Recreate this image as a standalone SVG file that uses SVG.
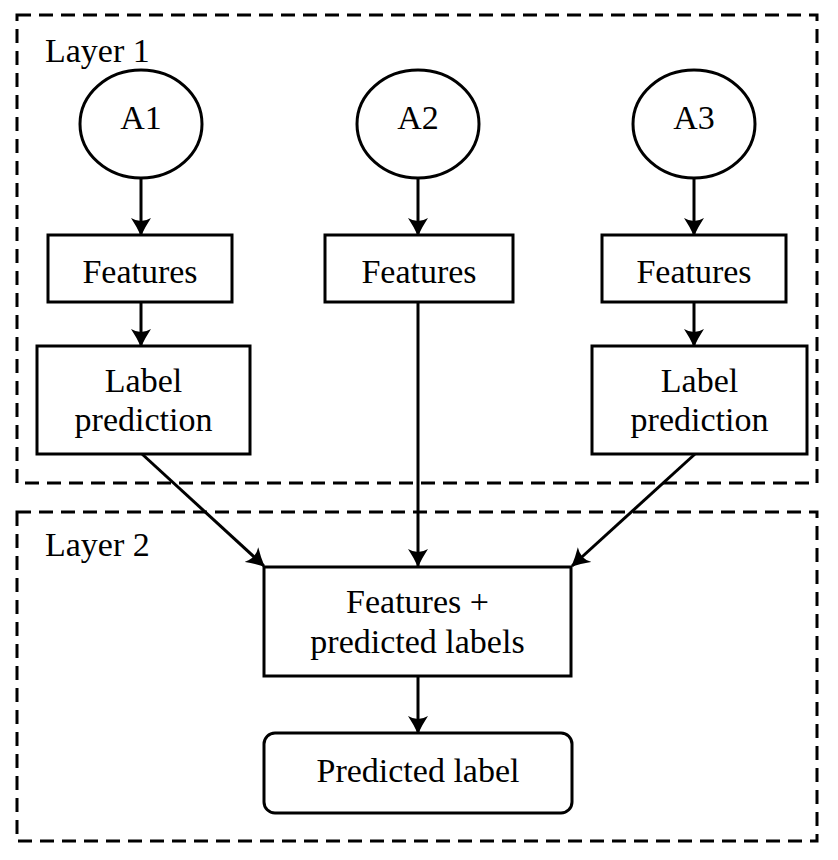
<svg xmlns="http://www.w3.org/2000/svg" width="838" height="860" viewBox="0 0 838 860">
  <style>
    .layer { fill: none; stroke: #000; stroke-width: 3; stroke-dasharray: 14 8; }
    .node { fill: #fff; stroke: #000; stroke-width: 3; }
    .edge { fill: none; stroke: #000; stroke-width: 3; marker-end: url(#arrow); }
    text { font-family: "Liberation Serif", "Times New Roman", serif; font-size: 34px; fill: #000; }
    .c { text-anchor: middle; }
  </style>
  <defs>
    <marker id="arrow" viewBox="0 0 18 20" refX="17" refY="10" markerWidth="18" markerHeight="20" markerUnits="userSpaceOnUse" orient="auto">
      <path d="M0,0 Q9,6 18,10 Q9,14 0,20 Q6,10 0,0 z" fill="#000"/>
    </marker>
  </defs>
  <rect width="838" height="860" fill="#fff"/>

  <g id="layer1">
    <rect class="layer" x="17" y="15" width="800" height="468"/>
    <text x="45" y="62">Layer 1</text>
  </g>
  <g id="layer2">
    <rect class="layer" x="17" y="512" width="800" height="329"/>
    <text x="45" y="556">Layer 2</text>
  </g>

  <g id="connectors">
    <line class="edge" x1="141" y1="178" x2="141" y2="235"/>
    <line class="edge" x1="141" y1="302" x2="141" y2="346"/>
    <line class="edge" x1="418" y1="178" x2="418" y2="235"/>
    <line class="edge" x1="694" y1="178" x2="694" y2="235"/>
    <line class="edge" x1="694" y1="302" x2="694" y2="346"/>
    <line class="edge" x1="142" y1="454" x2="264" y2="566"/>
    <line class="edge" x1="418" y1="302" x2="418" y2="566"/>
    <line class="edge" x1="695" y1="454" x2="572" y2="566"/>
    <line class="edge" x1="418" y1="676" x2="418" y2="733"/>
  </g>

  <g id="a1">
    <ellipse class="node" cx="141" cy="124" rx="61" ry="54"/>
    <text class="c" x="141" y="129">A1</text>
  </g>
  <g id="a2">
    <ellipse class="node" cx="418" cy="124" rx="61" ry="54"/>
    <text class="c" x="418" y="129">A2</text>
  </g>
  <g id="a3">
    <ellipse class="node" cx="694" cy="124" rx="61" ry="54"/>
    <text class="c" x="694" y="129">A3</text>
  </g>

  <g id="features1">
    <rect class="node" x="48" y="235" width="184" height="67"/>
    <text class="c" x="140" y="283">Features</text>
  </g>
  <g id="features2">
    <rect class="node" x="325" y="235" width="188" height="67"/>
    <text class="c" x="419" y="283">Features</text>
  </g>
  <g id="features3">
    <rect class="node" x="602" y="235" width="184" height="67"/>
    <text class="c" x="694" y="283">Features</text>
  </g>

  <g id="labelpred1">
    <rect class="node" x="37" y="346" width="213" height="108"/>
    <text class="c" x="143.5" y="392">Label</text>
    <text class="c" x="143.5" y="431">prediction</text>
  </g>
  <g id="labelpred3">
    <rect class="node" x="592" y="346" width="215" height="108"/>
    <text class="c" x="699.5" y="392">Label</text>
    <text class="c" x="699.5" y="431">prediction</text>
  </g>

  <g id="combined">
    <rect class="node" x="264" y="567" width="307" height="109"/>
    <text class="c" x="417.5" y="613">Features +</text>
    <text class="c" x="417.5" y="653">predicted labels</text>
  </g>
  <g id="predicted">
    <rect class="node" x="264" y="733" width="308" height="80" rx="11" ry="11"/>
    <text class="c" x="418" y="782">Predicted label</text>
  </g>
</svg>
